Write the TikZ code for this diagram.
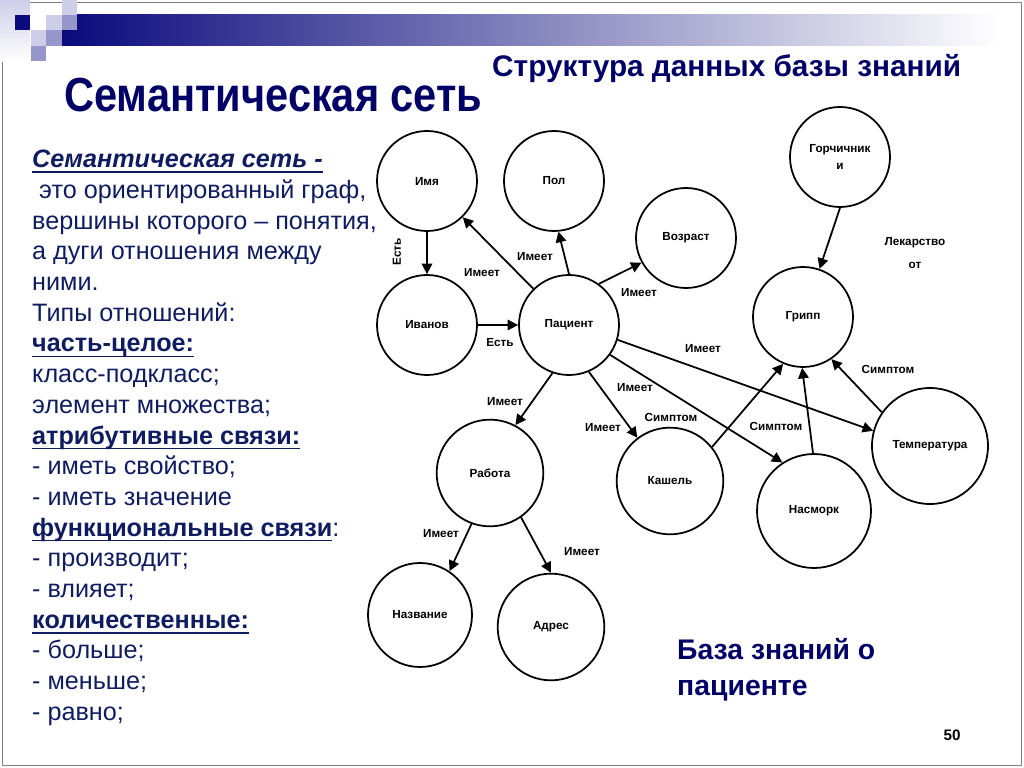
\documentclass[tikz,border=0pt]{standalone}
\usepackage{fontspec}
\usepackage{graphicx}
\setmainfont{Liberation Sans}
\usetikzlibrary{arrows.meta,positioning,shapes}
\definecolor{slidenavy}{RGB}{0,0,102}
\definecolor{textnavy}{RGB}{16,28,96}
\definecolor{barnavy}{RGB}{10,10,125}
\definecolor{lightlav}{RGB}{206,206,232}
\definecolor{midlav}{RGB}{150,150,205}
\newcommand\ulinethick[1]{\setbox0\hbox{#1}\leavevmode\rlap{\rule[-4.5pt]{\wd0}{1.5pt}}\box0}

\begin{document}
\begin{tikzpicture}[x=0.03cm, y=-0.03cm,
  concept/.style={draw, circle, line width=1.5pt, inner sep=0pt, minimum size=3cm, align=center, font=\bfseries\fontsize{10}{13}\selectfont},
  link/.style={-{Triangle[length=9pt,width=9pt]}, line width=1.5pt},
  edgelbl/.style={inner sep=1pt, font=\bfseries\fontsize{10}{13}\selectfont}]
  \useasboundingbox (0,0) rectangle (1024,768);
  \draw[gray, line width=0.6pt] (2,2) rectangle (1021,765);

  % header decoration
  \shade[top color=lightlav, bottom color=white] (0,0) rectangle (30,62);
  \shade[left color=barnavy, right color=white] (62,15) rectangle (1000,46);
  \fill[lightlav] (62,0) rectangle (77,15);
  \fill[midlav] (62,15) rectangle (77,30);
  \fill[lightlav] (46,15) rectangle (62,30);
  \fill[midlav] (46,30) rectangle (62,46);
  \fill[lightlav] (31,30) rectangle (46,46);
  \fill[midlav] (31,46) rectangle (46,61);
  \fill[barnavy] (15,15) rectangle (30,30);

  % titles
  \node[anchor=base west, inner sep=0pt, text=slidenavy, font=\bfseries\fontsize{35.5}{40}\selectfont] (title) at (64,112) {\scalebox{1}[1.15]{Семантическая сеть}};
  \node[anchor=base west, inner sep=0pt, text=slidenavy, font=\bfseries\fontsize{25.4}{28}\selectfont] (subtitle) at (492,77) {Структура данных базы знаний};

  % definition text
  \node[anchor=north west, inner sep=0pt, align=left, text=textnavy, font=\fontsize{21.5}{26.2}\selectfont] (deftext) at (32,150) {%
    \ulinethick{\textbf{\textit{Семантическая сеть -}}}\\
    \ это ориентированный граф,\\
    вершины которого – понятия,\\
    а дуги отношения между\\
    ними.\\
    Типы отношений:\\
    \ulinethick{\textbf{часть-целое:}}\\
    класс-подкласс;\\
    элемент множества;\\
    \ulinethick{\textbf{атрибутивные связи:}}\\
    - иметь свойство;\\
    - иметь значение\\
    \ulinethick{\textbf{функциональные связи}}:\\
    - производит;\\
    - влияет;\\
    \ulinethick{\textbf{количественные:}}\\
    - больше;\\
    - меньше;\\
    - равно;};

  % concepts
  \node[concept] (imya) at (427,181) {Имя};
  \node[concept] (pol) at (554,181) {Пол};
  \node[concept] (vozrast) at (686,238) {Возраст};
  \node[concept] (ivanov) at (427,325) {Иванов};
  \node[concept] (pacient) at (569,325) {Пациент};
  \node[concept] (gorch) at (840,157) {Горчичник\\[1pt]и};
  \node[concept] (gripp) at (803,317) {Грипп};
  \node[concept, minimum size=3.2cm] (rabota) at (490,473) {Работа};
  \node[concept, minimum size=3.2cm] (kashel) at (670,481) {Кашель};
  \node[concept, minimum size=3.42cm] (nasmork) at (814,511) {Насморк};
  \node[concept, minimum size=3.48cm] (temp) at (930,446) {Температура};
  \node[concept, minimum size=3.12cm] (nazv) at (420,615) {Название};
  \node[concept, minimum size=3.2cm] (adres) at (551,627) {Адрес};

  % relations
  \draw[link] (imya) -- (ivanov);
  \draw[link] (ivanov) -- (pacient);
  \draw[link] (pacient) -- (imya);
  \draw[link] (pacient.90) -- (pol.-85);
  \draw[link] (pacient.54) -- (vozrast.209);
  \draw[link] (pacient.-17) -- (temp.165);
  \draw[link] (pacient.-36) -- (nasmork.123);
  \draw[link] (pacient.-67) -- (kashel.127);
  \draw[link] (pacient.-109) -- (rabota.62);
  \draw[link] (rabota.-110) -- (nazv.56);
  \draw[link] (rabota.-55) -- (adres.90);
  \draw[link] (gorch.-90) -- (gripp.71);
  \draw[link] (kashel.39) -- (gripp.247);
  \draw[link] (nasmork.91) -- (gripp.-91);
  \draw[link] (temp.145) -- (gripp.-56);

  % relation labels
  \node[edgelbl, rotate=90] (lest1) at (397,252) {Есть};
  \node[edgelbl] (lest2) at (500,343) {Есть};
  \node[edgelbl] (limya) at (482,273) {Имеет};
  \node[edgelbl] (lpol) at (535,257) {Имеет};
  \node[edgelbl] (lvoz) at (639,293) {Имеет};
  \node[edgelbl] (ltemp) at (703,349) {Имеет};
  \node[edgelbl] (lnas) at (635,388) {Имеет};
  \node[edgelbl] (lkash) at (603,428) {Имеет};
  \node[edgelbl] (lrab) at (505,402) {Имеет};
  \node[edgelbl] (lnazv) at (441,534) {Имеет};
  \node[edgelbl] (ladr) at (582,552) {Имеет};
  \node[edgelbl] (lsimp1) at (671,417) {Симптом};
  \node[edgelbl] (lsimp2) at (776,426) {Симптом};
  \node[edgelbl] (lsimp3) at (888,369) {Симптом};
  \node[edgelbl, align=center] (llek) at (915,253) {Лекарство\\[7pt]от};

  % footer
  \node[anchor=base west, inner sep=0pt, align=left, text=slidenavy, font=\bfseries\fontsize{24.2}{30}\selectfont] (kbase) at (677,695) {База знаний о\\пациенте};
  \node[font=\bfseries\fontsize{13}{15}\selectfont] (pagenum) at (952,735) {50};
\end{tikzpicture}
\end{document}
